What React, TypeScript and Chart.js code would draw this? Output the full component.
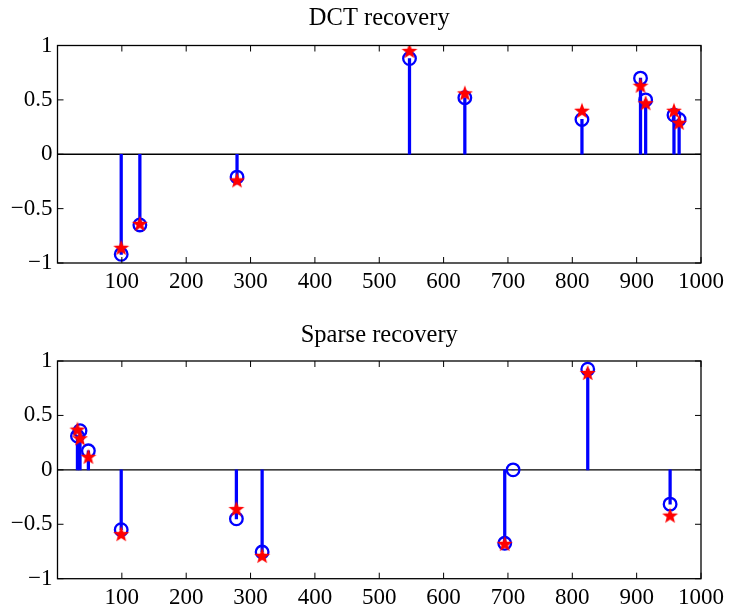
import React, { useEffect, useRef } from 'react';
import { Chart, registerables } from 'chart.js';

Chart.register(...registerables);

// Axis ticks
const xTickValues = [100, 200, 300, 400, 500, 600, 700, 800, 900, 1000];
const yTickValues = [-1, -0.5, 0, 0.5, 1];
const yTickLabels = ['\u22121', '\u22120.5', '0', '0.5', '1'];

// DCT recovery: support indices, original coefficients, recovered coefficients
const dctIndex = [99, 128, 279, 547, 633, 815, 906, 914, 958, 966];
const dctOriginal = [-0.92, -0.65, -0.21, 0.88, 0.52, 0.32, 0.70, 0.50, 0.36, 0.32];
const dctRecovered = [-0.86, -0.64, -0.24, 0.95, 0.56, 0.40, 0.63, 0.47, 0.40, 0.29];

// Sparse recovery
const sparseIndex = [31, 35, 48, 99, 278, 318, 695, 708, 824, 952];
const sparseOriginal = [0.31, 0.36, 0.175, -0.55, -0.45, -0.755, -0.675, 0, 0.925, -0.315];
const sparseRecovered: (number | null)[] = [0.37, 0.29, 0.12, -0.59, -0.36, -0.79, -0.68, null, 0.89, -0.42];

const BLUE = '#0000ff';
const RED = '#ff0000';
const SERIF = '"Liberation Serif", "Times New Roman", Times, serif';
const TICK_FONT_SIZE = 23;
const TITLE_FONT_SIZE = 24.5;

function makeStar(): HTMLCanvasElement {
  const c = document.createElement('canvas');
  const size = 20;
  c.width = size;
  c.height = size;
  const g = c.getContext('2d')!;
  const cx = size / 2;
  const cy = size / 2 + 0.5;
  const R = 8.4;
  const r = R * 0.42;
  g.beginPath();
  for (let i = 0; i < 10; i++) {
    const rad = i % 2 === 0 ? R : r;
    const a = -Math.PI / 2 + (i * Math.PI) / 5;
    const px = cx + rad * Math.cos(a);
    const py = cy + rad * Math.sin(a);
    if (i === 0) g.moveTo(px, py);
    else g.lineTo(px, py);
  }
  g.closePath();
  g.fillStyle = RED;
  g.fill();
  return c;
}

// Box around the axes with inward tick marks, the y = 0 baseline and the title
const framePlugin = {
  id: 'matlabFrame',
  beforeDatasetsDraw(chart: any) {
    const { ctx, chartArea: a, scales } = chart;
    const y0 = scales.y.getPixelForValue(0);
    ctx.save();
    ctx.strokeStyle = '#000';
    ctx.lineWidth = 1.4;
    ctx.beginPath();
    ctx.moveTo(a.left, y0);
    ctx.lineTo(a.right, y0);
    ctx.stroke();
    ctx.restore();
  },
  afterDatasetsDraw(chart: any, _args: any, opts: any) {
    const { ctx, chartArea: a, scales } = chart;
    const tick = 6;
    ctx.save();
    ctx.strokeStyle = '#000';
    ctx.lineWidth = 1.3;
    ctx.strokeRect(a.left, a.top, a.right - a.left, a.bottom - a.top);
    ctx.lineWidth = 1;
    ctx.beginPath();
    for (const t of scales.x.ticks) {
      const px = scales.x.getPixelForValue(t.value);
      ctx.moveTo(px, a.bottom);
      ctx.lineTo(px, a.bottom - tick);
      ctx.moveTo(px, a.top);
      ctx.lineTo(px, a.top + tick);
    }
    for (const t of scales.y.ticks) {
      const py = scales.y.getPixelForValue(t.value);
      ctx.moveTo(a.left, py);
      ctx.lineTo(a.left + tick, py);
      ctx.moveTo(a.right, py);
      ctx.lineTo(a.right - tick, py);
    }
    ctx.stroke();
    if (opts && opts.title) {
      ctx.fillStyle = '#000';
      ctx.font = `${TITLE_FONT_SIZE}px ${SERIF}`;
      ctx.textAlign = 'center';
      ctx.textBaseline = 'alphabetic';
      ctx.fillText(opts.title, (a.left + a.right) / 2, opts.titleY);
    }
    ctx.restore();
  },
};

function buildChart(
  canvas: HTMLCanvasElement,
  index: number[],
  original: number[],
  recovered: (number | null)[],
  title: string,
  titleY: number,
  padTop: number,
  xAxisHeight: number,
  star: HTMLCanvasElement
) {
  const stemData = index.map((x, i) => ({ x, y: original[i] }));
  const recData = index.map((x, i) => ({ x, y: recovered[i] }));
  return new Chart(canvas, {
    type: 'scatter',
    data: {
      datasets: [
        {
          type: 'bar',
          data: stemData,
          backgroundColor: BLUE,
          barThickness: 2.6,
          order: 3,
        } as any,
        {
          type: 'scatter',
          data: stemData,
          pointStyle: 'circle',
          pointRadius: 6.3,
          borderWidth: 2.3,
          borderColor: BLUE,
          backgroundColor: 'rgba(0,0,0,0)',
          order: 2,
        },
        {
          type: 'scatter',
          data: recData,
          pointStyle: star,
          pointRadius: 9,
          order: 1,
        },
      ],
    },
    options: {
      responsive: false,
      animation: false,
      events: [],
      layout: { padding: { top: padTop, right: 26, left: 0, bottom: 0 } },
      plugins: {
        legend: { display: false },
        tooltip: { enabled: false },
        matlabFrame: { title, titleY },
      } as any,
      scales: {
        x: {
          type: 'linear',
          min: 0,
          max: 1000,
          offset: false,
          grid: { display: false, drawTicks: false },
          border: { display: false },
          afterBuildTicks: (s: any) => {
            s.ticks = xTickValues.map((v) => ({ value: v }));
          },
          afterFit: (s: any) => {
            s.height = xAxisHeight;
          },
          ticks: {
            autoSkip: false,
            maxRotation: 0,
            padding: 5,
            color: '#000',
            font: { family: SERIF, size: TICK_FONT_SIZE },
            callback: (v: any) => String(v),
          },
        },
        y: {
          type: 'linear',
          min: -1,
          max: 1,
          grid: { display: false, drawTicks: false },
          border: { display: false },
          afterBuildTicks: (s: any) => {
            s.ticks = yTickValues.map((v) => ({ value: v }));
          },
          afterFit: (s: any) => {
            s.width = 57.5;
          },
          ticks: {
            autoSkip: false,
            padding: 5,
            color: '#000',
            font: { family: SERIF, size: TICK_FONT_SIZE },
            callback: (v: any) => {
              const k = yTickValues.indexOf(Number(v));
              return k >= 0 ? yTickLabels[k] : '';
            },
          },
        },
      },
    },
    plugins: [framePlugin],
  });
}

export default function App() {
  const topRef = useRef<HTMLCanvasElement>(null);
  const bottomRef = useRef<HTMLCanvasElement>(null);

  useEffect(() => {
    const star = makeStar();
    const top = buildChart(topRef.current!, dctIndex, dctOriginal, dctRecovered, 'DCT recovery', 25, 45.5, 41, star);
    const bottom = buildChart(
      bottomRef.current!,
      sparseIndex,
      sparseOriginal,
      sparseRecovered,
      'Sparse recovery',
      38,
      57,
      28.3,
      star
    );
    return () => {
      top.destroy();
      bottom.destroy();
    };
  }, []);

  return (
    <div style={{ position: 'absolute', left: 0, top: 0, width: 729, height: 607, background: '#fff' }}>
      <canvas ref={topRef} width={729} height={304} style={{ display: 'block' }} />
      <canvas ref={bottomRef} width={729} height={303} style={{ display: 'block' }} />
    </div>
  );
}
